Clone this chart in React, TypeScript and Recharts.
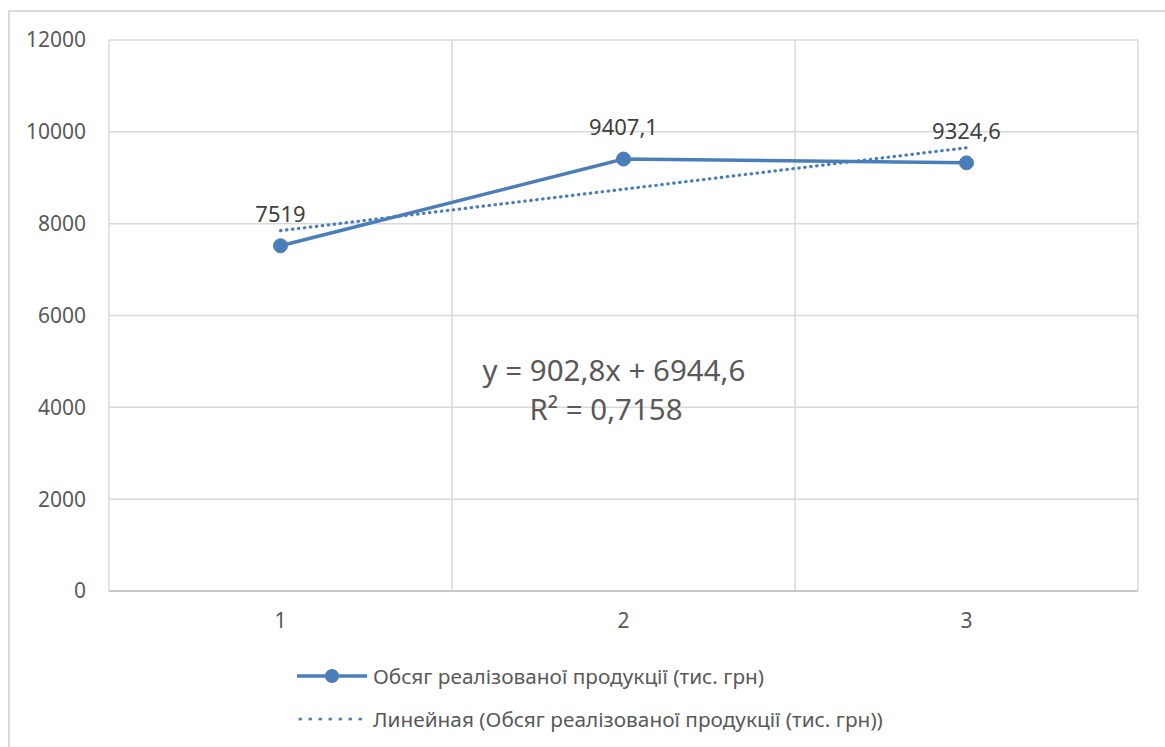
import React from "react";
import {
  LineChart,
  Line,
  XAxis,
  YAxis,
  CartesianGrid,
  ReferenceLine,
  LabelList,
} from "recharts";

// Years of the period (category numbers on the axis)
const periods = [1, 2, 3];
// Обсяг реалізованої продукції, тис. грн
const salesVolume = [7519, 9407.1, 9324.6];
// Linear trend values at each period: y = 902,8x + 6944,6
const trendValues = [7847.4, 8750.2, 9653.0];
const yTicks = [0, 2000, 4000, 6000, 8000, 10000, 12000];
const bandEdges = [0.5, 1.5, 2.5, 3.5];

const seriesName = "Обсяг реалізованої продукції (тис. грн)";
const trendName = "Линейная (Обсяг реалізованої продукції (тис. грн))";
const equationText = "y = 902,8x + 6944,6";
const rSquaredText = "R² = 0,7158";

const BLUE = "#4a7ebb";
const GRID = "#d9d9d9";
const TEXT = "#595959";
const FONT = "'Noto Sans', 'Open Sans', sans-serif";

const chartData = periods.map((p, i) => ({
  period: p,
  volume: salesVolume[i],
  trend: trendValues[i],
}));

const formatComma = (v: number | string) => String(v).replace(".", ",");

export default function App() {
  return (
    <div style={{ position: "absolute", left: 0, top: 0, width: 1165, height: 747, background: "#fff", fontFamily: FONT }}>
      <div
        style={{
          position: "absolute",
          left: 8,
          top: 10,
          width: 1170,
          height: 760,
          borderTop: `2px solid ${GRID}`,
          borderLeft: `2px solid ${GRID}`,
        }}
      />
      <LineChart
        width={1165}
        height={747}
        data={chartData}
        margin={{ top: 40, right: 27, left: 0, bottom: 96 }}
        style={{ position: "absolute", left: 0, top: 0 }}
      >
        <CartesianGrid vertical={false} stroke={GRID} strokeWidth={1.5} />
        {bandEdges.map((x) => (
          <ReferenceLine key={x} x={x} stroke={GRID} strokeWidth={1.5} />
        ))}
        <XAxis
          dataKey="period"
          type="number"
          domain={[0.5, 3.5]}
          ticks={periods}
          height={60}
          tickLine={false}
          tickSize={0}
          tickMargin={22}
          axisLine={{ stroke: "#bfbfbf", strokeWidth: 1.5 }}
          tick={{ fill: TEXT, fontSize: 21, fontFamily: FONT }}
        />
        <YAxis
          width={109}
          domain={[0, 12000]}
          ticks={yTicks}
          axisLine={false}
          tickLine={false}
          tickSize={0}
          tickMargin={23}
          tick={{ fill: TEXT, fontSize: 21, fontFamily: FONT }}
        />
        <Line
          dataKey="trend"
          type="linear"
          stroke={BLUE}
          strokeWidth={3.2}
          strokeDasharray="0.5 5.5"
          strokeLinecap="round"
          dot={false}
          isAnimationActive={false}
        />
        <Line
          dataKey="volume"
          type="linear"
          stroke={BLUE}
          strokeWidth={3.5}
          dot={{ r: 7, fill: BLUE, stroke: BLUE, strokeWidth: 1 }}
          activeDot={false}
          isAnimationActive={false}
        >
          <LabelList
            dataKey="volume"
            position="top"
            offset={24}
            formatter={formatComma}
            style={{ fill: "#404040", fontSize: 22, fontFamily: FONT }}
          />
        </Line>
      </LineChart>

      {/* trendline equation */}
      <div
        style={{
          position: "absolute",
          left: 414,
          width: 400,
          top: 350,
          textAlign: "center",
          color: TEXT,
          fontSize: 29.5,
          lineHeight: "39px",
        }}
      >
        <div>{equationText}</div>
        <div style={{ marginLeft: -16 }}>{rSquaredText}</div>
      </div>

      {/* legend */}
      <div style={{ position: "absolute", left: 297, top: 661, color: TEXT, fontSize: 20.8 }}>
        <div style={{ display: "flex", alignItems: "center", height: 30 }}>
          <svg width={70} height={20} style={{ marginRight: 6 }}>
            <line x1={0} y1={10} x2={70} y2={10} stroke={BLUE} strokeWidth={3.5} />
            <circle cx={35} cy={10} r={7} fill={BLUE} />
          </svg>
          <span>{seriesName}</span>
        </div>
        <div style={{ display: "flex", alignItems: "center", height: 30, marginTop: 13 }}>
          <svg width={70} height={20} style={{ marginRight: 6 }}>
            <line
              x1={3}
              y1={10}
              x2={68}
              y2={10}
              stroke={BLUE}
              strokeWidth={3.2}
              strokeDasharray="0.5 9.5"
              strokeLinecap="round"
            />
          </svg>
          <span>{trendName}</span>
        </div>
      </div>
    </div>
  );
}
